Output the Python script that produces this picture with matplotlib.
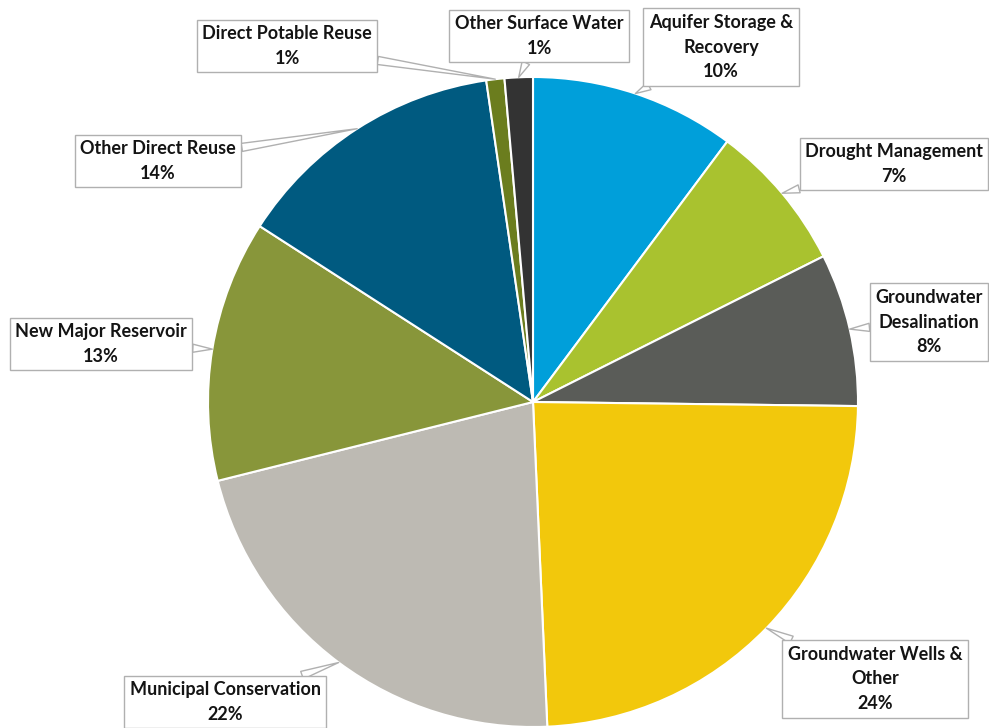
import numpy as np
import matplotlib
matplotlib.use("Agg")
import matplotlib.pyplot as plt

# water strategy shares, clockwise from 12 o'clock
categories = [
    "Aquifer Storage &\nRecovery",
    "Drought Management",
    "Groundwater\nDesalination",
    "Groundwater Wells &\nOther",
    "Municipal Conservation",
    "New Major Reservoir",
    "Other Direct Reuse",
    "Direct Potable Reuse",
    "Other Surface Water",
]
shares = [10.2, 7.4, 7.6, 24.1, 21.8, 13.0, 13.6, 0.9, 1.4]
colors = ["#009FDA", "#A9C22F", "#5A5C58", "#F2C80C", "#BDBAB3",
          "#88963A", "#005A80", "#6B7D1E", "#333333"]

# callout box centres in pixel space (y measured from the top)
box_xy = [(721, 47), (894, 164), (929, 322), (875, 679), (225, 702),
          (101, 344), (158, 161), (287, 46), (539, 36)]

W, H = 989, 728
cx, cy, r = 533, 402, 325

fig = plt.figure(figsize=(W / 100, H / 100), dpi=100)
ax = fig.add_axes([0, 0, 1, 1])

wedges, _ = ax.pie(shares, colors=colors, startangle=90, counterclock=False,
                   center=(cx, H - cy), radius=r,
                   wedgeprops=dict(edgecolor="white", linewidth=1.5))
ax.set_xlim(0, W)
ax.set_ylim(0, H)
ax.axis("off")

total = sum(shares)
for w, name, v, (bx, by) in zip(wedges, categories, shares, box_xy):
    # callout points at the middle of the wedge's arc
    mid = np.deg2rad((w.theta1 + w.theta2) / 2)
    tip = (cx + r * np.cos(mid), H - cy + r * np.sin(mid))
    ax.annotate(f"{name}\n{v / total * 100:.0f}%", xy=tip, xytext=(bx, H - by),
                ha="center", va="center", fontsize=13, fontweight="bold",
                family=["Lato", "DejaVu Sans"], color="#141414", linespacing=1.55,
                bbox=dict(boxstyle="square,pad=0.3", fc="white", ec="#B0B0B0", lw=1),
                arrowprops=dict(arrowstyle="wedge,tail_width=0.45", fc="white",
                                ec="#B0B0B0", lw=1, shrinkA=0, shrinkB=0))

fig.savefig("out.png", dpi=100)
